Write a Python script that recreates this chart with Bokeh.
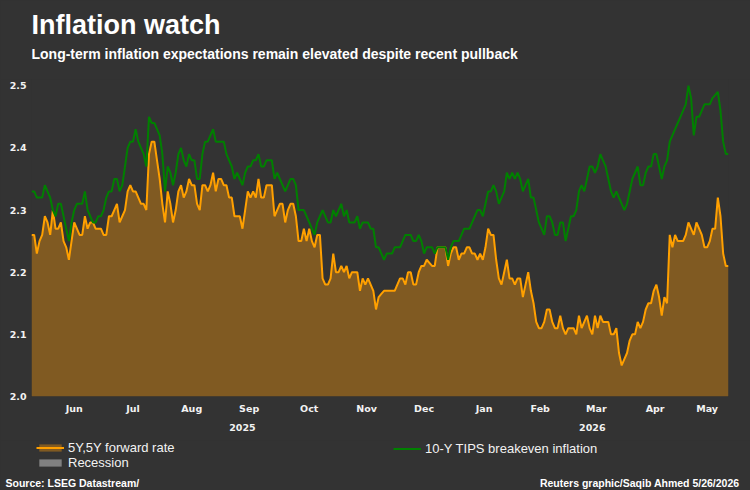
import pandas as pd
from bokeh.plotting import figure
from bokeh.layouts import column
from bokeh.models import (Range1d, FixedTicker, LinearAxis, Label, Legend, LegendItem,
                          PrintfTickFormatter)
from bokeh.embed import file_html
from bokeh.resources import INLINE

# ---------------- data (business days) ----------------
start_date = "2025-05-23"

fwd_5y5y = [
    2.26, 2.26, 2.23, 2.25, 2.26, 2.29, 2.28, 2.26, 2.30, 2.27,
    2.27, 2.28, 2.25, 2.24, 2.22, 2.25, 2.28, 2.27, 2.26, 2.26,
    2.29, 2.27, 2.28, 2.28, 2.27, 2.27, 2.27, 2.26, 2.26, 2.29,
    2.29, 2.30, 2.31, 2.28, 2.29, 2.30, 2.33, 2.34, 2.33, 2.33,
    2.32, 2.31, 2.31, 2.30, 2.39, 2.41, 2.41, 2.38, 2.35, 2.31,
    2.28, 2.33, 2.31, 2.28, 2.30, 2.33, 2.34, 2.32, 2.33, 2.35,
    2.34, 2.34, 2.31, 2.30, 2.34, 2.34, 2.33, 2.34, 2.36, 2.33,
    2.35, 2.35, 2.34, 2.34, 2.32, 2.32, 2.29, 2.29, 2.29, 2.27,
    2.30, 2.33, 2.32, 2.33, 2.32, 2.35, 2.32, 2.32, 2.34, 2.34,
    2.34, 2.29, 2.30, 2.31, 2.31, 2.28, 2.30, 2.31, 2.31, 2.29,
    2.25, 2.25, 2.27, 2.25, 2.27, 2.25, 2.24, 2.26, 2.26, 2.19,
    2.18, 2.18, 2.19, 2.23, 2.20, 2.20, 2.21, 2.20, 2.21, 2.19,
    2.20, 2.20, 2.20, 2.17, 2.19, 2.18, 2.19, 2.18, 2.17, 2.14,
    2.16, 2.165, 2.17, 2.17, 2.17, 2.17, 2.17, 2.18, 2.19, 2.19,
    2.18, 2.20, 2.20, 2.18, 2.18, 2.20, 2.21, 2.21, 2.22, 2.215,
    2.21, 2.21, 2.24, 2.24, 2.24, 2.24, 2.21, 2.23, 2.24, 2.24,
    2.22, 2.23, 2.23, 2.24, 2.24, 2.23, 2.23, 2.22, 2.23, 2.22,
    2.24, 2.27, 2.26, 2.26, 2.22, 2.19, 2.18, 2.20, 2.22, 2.19,
    2.19, 2.18, 2.19, 2.19, 2.16, 2.18, 2.20, 2.17, 2.15, 2.12,
    2.11, 2.11, 2.12, 2.14, 2.14, 2.12, 2.11, 2.11, 2.13, 2.11,
    2.10, 2.11, 2.11, 2.11, 2.10, 2.13, 2.11, 2.12, 2.13, 2.11,
    2.10, 2.13, 2.11, 2.13, 2.12, 2.12, 2.12, 2.10, 2.10, 2.11,
    2.07, 2.05, 2.06, 2.07, 2.09, 2.10, 2.10, 2.12, 2.11, 2.12,
    2.14, 2.15, 2.15, 2.17, 2.18, 2.16, 2.13, 2.16, 2.15, 2.26,
    2.24, 2.26, 2.25, 2.25, 2.25, 2.26, 2.28, 2.27, 2.26, 2.28,
    2.27, 2.26, 2.24, 2.24, 2.25, 2.27, 2.27, 2.32, 2.29, 2.23,
    2.21, 2.21,
]

tips_10y = [
    2.33, 2.33, 2.32, 2.32, 2.32, 2.34, 2.33, 2.32, 2.30, 2.29,
    2.31, 2.31, 2.29, 2.27, 2.25, 2.28, 2.30, 2.31, 2.31, 2.31,
    2.33, 2.30, 2.29, 2.28, 2.28, 2.29, 2.29, 2.30, 2.32, 2.33,
    2.33, 2.35, 2.35, 2.33, 2.34, 2.37, 2.40, 2.41, 2.41, 2.43,
    2.41, 2.40, 2.39, 2.37, 2.45, 2.44, 2.44, 2.43, 2.42, 2.39,
    2.33, 2.37, 2.36, 2.34, 2.36, 2.39, 2.40, 2.38, 2.37, 2.39,
    2.38, 2.38, 2.35, 2.35, 2.39, 2.41, 2.41, 2.42, 2.43, 2.41,
    2.41, 2.41, 2.41, 2.39, 2.38, 2.37, 2.35, 2.36, 2.35, 2.34,
    2.36, 2.37, 2.37, 2.38, 2.38, 2.39, 2.37, 2.37, 2.38, 2.38,
    2.38, 2.35, 2.36, 2.35, 2.34, 2.33, 2.34, 2.35, 2.35, 2.34,
    2.30, 2.30, 2.30, 2.29, 2.28, 2.27, 2.26, 2.28, 2.29, 2.30,
    2.29, 2.28, 2.28, 2.30, 2.29, 2.30, 2.31, 2.29, 2.30, 2.28,
    2.28, 2.28, 2.29, 2.27, 2.28, 2.28, 2.28, 2.27, 2.27, 2.24,
    2.24, 2.23, 2.22, 2.23, 2.23, 2.23, 2.24, 2.24, 2.24, 2.25,
    2.26, 2.26, 2.26, 2.25, 2.25, 2.26, 2.25, 2.23, 2.24, 2.24,
    2.24, 2.23, 2.24, 2.24, 2.24, 2.24, 2.22, 2.24, 2.25, 2.25,
    2.25, 2.26, 2.27, 2.27, 2.27, 2.28, 2.29, 2.30, 2.30, 2.29,
    2.31, 2.33, 2.33, 2.34, 2.33, 2.31, 2.32, 2.33, 2.36, 2.35,
    2.36, 2.35, 2.36, 2.35, 2.33, 2.34, 2.35, 2.32, 2.32, 2.30,
    2.28, 2.27, 2.26, 2.29, 2.29, 2.28, 2.26, 2.26, 2.28, 2.28,
    2.25, 2.27, 2.29, 2.29, 2.30, 2.33, 2.34, 2.33, 2.35, 2.37,
    2.37, 2.36, 2.37, 2.39, 2.38, 2.37, 2.35, 2.33, 2.32, 2.33,
    2.32, 2.31, 2.30, 2.31, 2.33, 2.35, 2.36, 2.37, 2.34, 2.34,
    2.36, 2.37, 2.37, 2.39, 2.39, 2.37, 2.35, 2.37, 2.38, 2.41,
    2.42, 2.43, 2.44, 2.45, 2.46, 2.47, 2.50, 2.48, 2.42, 2.45,
    2.45, 2.46, 2.47, 2.47, 2.47, 2.48, 2.485, 2.49, 2.46, 2.41,
    2.39, 2.39,
]

# no recession inside the window: flag is 0 everywhere
recession_flag = [0] * len(fwd_5y5y)

month_labels = ["Jun", "Jul", "Aug", "Sep", "Oct", "Nov", "Dec",
                "Jan", "Feb", "Mar", "Apr", "May"]
year_labels = ["2025", "2026"]
y_ticks = [2.0, 2.1, 2.2, 2.3, 2.4, 2.5]

series_names = ["5Y,5Y forward rate", "Recession", "10-Y TIPS breakeven inflation"]
title_text = "Inflation watch"
subtitle_text = "Long-term inflation expectations remain elevated despite recent pullback"
source_text = "Source: LSEG Datastream/"
credit_text = "Reuters graphic/Saqib Ahmed 5/26/2026"

# ---------------- derived positions ----------------
dates = pd.bdate_range(start_date, periods=len(fwd_5y5y))
idx = list(range(len(dates)))
frame = pd.DataFrame({"date": dates, "i": idx})

month_groups = frame.groupby(frame["date"].dt.to_period("M"))["i"]
month_centers = [(g.min() + g.max()) / 2 for _, g in month_groups if len(g) >= 10]
year_groups = frame.groupby(frame["date"].dt.year)["i"]
year_centers = [(g.min() + g.max()) / 2 for _, g in year_groups]

Y0, Y1 = 2.0, 2.51
rec_top = [Y0 + f * (Y1 - Y0) for f in recession_flag]

# ---------------- styling ----------------
BG = "#333333"
ORANGE = "#ffa000"
BROWN = "#805a22"
GREEN = "#008000"
GREY = "#808080"
TXT = "#f2f2f2"
SANS = "Liberation Sans"
AXF = "DejaVu Sans"
W = 750


def bare_fig(height, xr=(0, 1), yr=(0, 1)):
    f = figure(width=W, height=height, output_backend="svg", toolbar_location=None,
               x_range=Range1d(*xr), y_range=Range1d(*yr),
               min_border=0, min_border_left=0, min_border_right=0,
               min_border_top=0, min_border_bottom=0,
               background_fill_color=BG, border_fill_color=BG,
               x_axis_type=None, y_axis_type=None, frame_align=False)
    f.outline_line_color = None
    f.grid.visible = False
    return f


def add_text(f, txt, x, y, size, bold=False, align="left"):
    f.add_layout(Label(x=x, y=y, x_units="screen", y_units="screen", text=txt,
                       text_font=SANS, text_font_size=size,
                       text_font_style="bold" if bold else "normal",
                       text_color="white", text_align=align,
                       text_baseline="alphabetic"))


# ---------------- header ----------------
HEAD_H = 79
head = bare_fig(HEAD_H)
add_text(head, title_text, 31, HEAD_H - 33 + 9, "27px", bold=True)
add_text(head, subtitle_text, 31, HEAD_H - 57 + 4, "14px", bold=True)

# ---------------- main chart ----------------
MAIN_H = 361
p = figure(width=W, height=MAIN_H, output_backend="svg", toolbar_location=None,
           x_range=Range1d(0, len(idx) - 1), y_range=Range1d(Y0, Y1),
           min_border_left=31, min_border_right=22, min_border_top=0,
           min_border_bottom=MAIN_H - 317, background_fill_color=BG,
           border_fill_color=BG, x_axis_type=None, y_axis_type=None,
           frame_align=False)
p.outline_line_color = None
p.grid.visible = False


def style_axis(ax, standoff):
    ax.axis_line_color = None
    ax.major_tick_line_color = None
    ax.minor_tick_line_color = None
    ax.major_tick_in = 0
    ax.major_tick_out = 0
    ax.minor_tick_in = 0
    ax.minor_tick_out = 0
    ax.major_label_text_color = TXT
    ax.major_label_text_font = AXF
    ax.major_label_text_font_style = "bold"
    ax.major_label_text_font_size = "9.5px"
    ax.major_label_standoff = standoff


yax = LinearAxis(ticker=FixedTicker(ticks=y_ticks),
                 formatter=PrintfTickFormatter(format="%.1f"))
style_axis(yax, 5)
p.add_layout(yax, "left")

xax = LinearAxis(ticker=FixedTicker(ticks=month_centers),
                 major_label_overrides={float(c): l for c, l in zip(month_centers, month_labels)})
style_axis(xax, 6)
p.add_layout(xax, "below")

yrax = LinearAxis(ticker=FixedTicker(ticks=year_centers),
                  major_label_overrides={float(c): l for c, l in zip(year_centers, year_labels)})
style_axis(yrax, 7)
p.add_layout(yrax, "below")

p.varea(x=idx, y1=Y0, y2=rec_top, fill_color=GREY)
p.varea(x=idx, y1=Y0, y2=fwd_5y5y, fill_color=BROWN)
p.line(x=idx, y=fwd_5y5y, line_color=ORANGE, line_width=2)
p.line(x=idx, y=tips_10y, line_color=GREEN, line_width=2)

# ---------------- footer: legend + source line ----------------
# The legend swatches mirror the same series; in this panel their values fall
# outside the (0..1) view, so only the legend icons are visible here.
FOOT_H = 490 - HEAD_H - MAIN_H
foot = bare_fig(FOOT_H)
lg_rec = foot.varea(x=idx, y1=Y0, y2=rec_top, fill_color=GREY)
lg_area = foot.varea(x=idx, y1=Y0, y2=fwd_5y5y, fill_color=BROWN)
lg_orange = foot.line(x=idx, y=fwd_5y5y, line_color=ORANGE, line_width=2)
lg_green = foot.line(x=idx, y=tips_10y, line_color=GREEN, line_width=2)


def make_legend(items, loc):
    return Legend(items=items, location=loc, orientation="vertical",
                  background_fill_alpha=0, border_line_alpha=0, padding=0, margin=0,
                  spacing=0, glyph_width=28, glyph_height=9, label_standoff=4,
                  label_text_font=SANS, label_text_font_size="13px",
                  label_text_color=TXT, label_height=14)


foot.add_layout(make_legend(
    [LegendItem(label=series_names[0], renderers=[lg_area, lg_orange]),
     LegendItem(label=series_names[1], renderers=[lg_rec])], (36, 20)))
foot.add_layout(make_legend(
    [LegendItem(label=series_names[2], renderers=[lg_green])], (393, 34)))

base_y = FOOT_H - (486 - HEAD_H - MAIN_H) + 4
add_text(foot, source_text, 5, base_y, "10.5px", bold=True)
add_text(foot, credit_text, 739, base_y, "10.5px", bold=True, align="right")

layout = column(head, p, foot, spacing=0)
html = file_html(layout, INLINE)
html = html.replace("</head>",
                    "<style>html,body{margin:0;padding:0;background:%s;}</style></head>" % BG, 1)
open("out.html", "w").write(html)
